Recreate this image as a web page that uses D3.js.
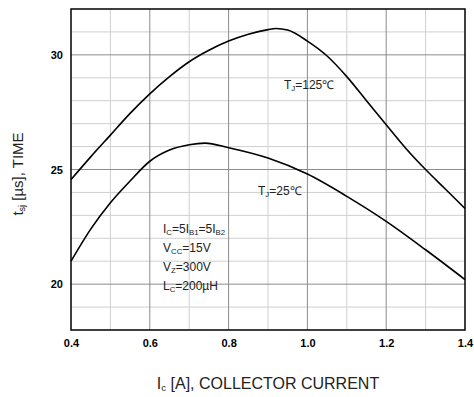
<!DOCTYPE html>
<html>
<head>
<meta charset="utf-8">
<script src="https://cdn.jsdelivr.net/npm/d3@7"></script>
<style>
  html, body { margin: 0; padding: 0; background: #fff; }
  svg { display: block; font-family: "Liberation Sans", Arial, sans-serif; }
</style>
</head>
<body>
<svg id="chart" width="474" height="397"></svg>
<script>
// Storage time vs. collector current, two junction temperatures
const current = [0.40, 0.45, 0.50, 0.55, 0.60, 0.65, 0.70, 0.75, 0.80, 0.85, 0.90, 0.92, 0.95, 1.00, 1.05, 1.10, 1.15, 1.20, 1.25, 1.30, 1.35, 1.40];
const time125 = [24.56, 25.55, 26.5, 27.45, 28.3, 29.05, 29.7, 30.2, 30.6, 30.9, 31.1, 31.15, 31.08, 30.6, 29.95, 29.05, 28.0, 26.95, 25.92, 25.0, 24.15, 23.3];

const current25 = [0.40, 0.45, 0.50, 0.55, 0.60, 0.65, 0.70, 0.74, 0.80, 0.90, 1.00, 1.10, 1.20, 1.30, 1.40];
const time25 = [21.0, 22.4, 23.55, 24.5, 25.36, 25.85, 26.08, 26.15, 25.95, 25.5, 24.8, 23.83, 22.74, 21.5, 20.2];

const xTicks = [0.4, 0.6, 0.8, 1.0, 1.2, 1.4];
const xTickLabels = ["0.4", "0.6", "0.8", "1.0", "1.2", "1.4"];
const yTicks = [20, 25, 30];
const xMinor = [0.5, 0.7, 0.9, 1.1, 1.3];
const yGrid = [19, 20, 21, 22, 23, 24, 25, 26, 27, 28, 29, 30, 31];

(function () {
  const svg = d3.select("#chart");
  const mLeft = 71, mRight = 465, mTop = 9, mBottom = 330;

  const x = d3.scaleLinear().domain([0.4, 1.4]).range([mLeft, mRight]);
  const y = d3.scaleLinear().domain([18, 32]).range([mBottom, mTop]);

  // grid
  const grid = svg.append("g");
  grid.selectAll(".vmin").data(xMinor).join("line")
    .attr("x1", d => x(d)).attr("x2", d => x(d)).attr("y1", mTop).attr("y2", mBottom)
    .attr("stroke", "#cfcfcf").attr("stroke-width", 1);
  grid.selectAll(".hg").data(yGrid).join("line")
    .attr("x1", mLeft).attr("x2", mRight).attr("y1", d => y(d)).attr("y2", d => y(d))
    .attr("stroke", d => yTicks.includes(d) ? "#8c8c8c" : "#cfcfcf").attr("stroke-width", 1);
  grid.selectAll(".vmaj").data(xTicks.slice(1, -1)).join("line")
    .attr("x1", d => x(d)).attr("x2", d => x(d)).attr("y1", mTop).attr("y2", mBottom)
    .attr("stroke", "#8c8c8c").attr("stroke-width", 1);

  // frame
  svg.append("rect").attr("x", mLeft).attr("y", mTop).attr("width", mRight - mLeft).attr("height", mBottom - mTop)
    .attr("fill", "none").attr("stroke", "#000").attr("stroke-width", 1.5);

  // curves
  const line = d3.line().x(d => x(d[0])).y(d => y(d[1])).curve(d3.curveMonotoneX);
  svg.append("path").datum(d3.zip(current, time125)).attr("d", line)
    .attr("fill", "none").attr("stroke", "#000").attr("stroke-width", 1.6);
  svg.append("path").datum(d3.zip(current25, time25)).attr("d", line)
    .attr("fill", "none").attr("stroke", "#000").attr("stroke-width", 1.6);

  // axes
  const xAxis = d3.axisBottom(x).tickValues(xTicks).tickSize(0).tickPadding(9)
    .tickFormat((d, i) => xTickLabels[i]);
  const gx = svg.append("g").attr("transform", `translate(0,${mBottom})`).call(xAxis);
  gx.select(".domain").remove();
  gx.selectAll("text").attr("font-size", 11).attr("font-weight", "bold")
    .attr("font-family", "Liberation Sans, Arial, sans-serif").attr("fill", "#000");

  const yAxis = d3.axisLeft(y).tickValues(yTicks).tickSize(0).tickPadding(8);
  const gy = svg.append("g").attr("transform", `translate(${mLeft},0)`).call(yAxis);
  gy.select(".domain").remove();
  gy.selectAll("text").attr("font-size", 11).attr("font-weight", "bold")
    .attr("font-family", "Liberation Sans, Arial, sans-serif").attr("fill", "#000");

  // text with subscripts: parts = [[text, isSub], ...]
  function richText(g, px, py, parts, size, subScale) {
    const t = g.append("text").attr("x", px).attr("y", py).attr("font-size", size).attr("fill", "#222");
    parts.forEach(([s, sub], i) => {
      const prev = i > 0 ? parts[i - 1][1] : false;
      const ts = t.append("tspan").text(s)
        .attr("dy", sub && !prev ? 2 : (!sub && prev ? -2 : 0));
      if (sub) ts.attr("font-size", size * (subScale || 0.65));
    });
    return t;
  }

  const ann = svg.append("g");
  richText(ann, 284, 89, [["T", false], ["J", true], ["=125\u2103", false]], 12);
  richText(ann, 258, 195, [["T", false], ["J", true], ["=25\u2103", false]], 12);
  richText(ann, 163, 233, [["I", false], ["C", true], ["=5I", false], ["B1", true], ["=5I", false], ["B2", true]], 12);
  richText(ann, 163, 252, [["V", false], ["CC", true], ["=15V", false]], 12);
  richText(ann, 163, 271, [["V", false], ["Z", true], ["=300V", false]], 12);
  richText(ann, 163, 290, [["L", false], ["C", true], ["=200\u00b5H", false]], 12);

  // axis titles
  richText(svg, 268, 389, [["I", false], ["c", true], [" [A], COLLECTOR CURRENT", false]], 16, 0.6)
    .attr("text-anchor", "middle");

  richText(svg, 0, 0, [["t", false], ["sj", true], [" [\u00b5s], TIME", false]], 15, 0.6)
    .attr("text-anchor", "middle")
    .attr("transform", "translate(23,174) rotate(-90)");
})();
</script>
</body>
</html>
